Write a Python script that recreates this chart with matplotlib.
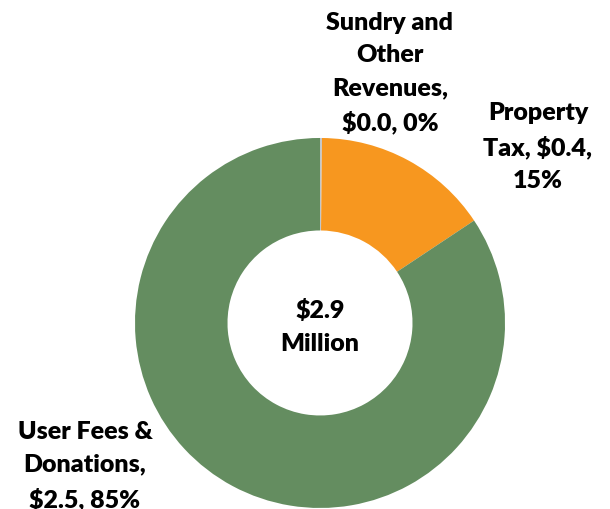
import matplotlib.pyplot as plt

# Revenue breakdown ($ million)
categories = ['Sundry and\nOther\nRevenues,\n$0.0, 0%', 'Property\nTax, $0.4,\n15%', 'User Fees &\nDonations,\n$2.5, 85%']
values = [0.005, 0.45, 2.45]
colors = ['#C3C8CE', '#F7971F', '#648D60']
center_text = '$2.9\nMillion'

# label anchor positions (in pie radius units)
label_pos = [(0.378, 1.357), (1.178, 0.957), (-1.27, -0.768)]

plt.rcParams['font.family'] = ['Lato', 'DejaVu Sans']

fig = plt.figure(figsize=(6.1, 5.1), dpi=100)
ax = fig.add_axes([0.2213, 0.002, 0.6066, 0.7255])

ax.pie(values, colors=colors, startangle=90, counterclock=False, radius=1,
       wedgeprops=dict(width=0.5, linewidth=0))
ax.set_aspect('auto')
ax.set_xlim(-1, 1)
ax.set_ylim(-1, 1)
ax.axis('off')

for text, (x, y) in zip(categories, label_pos):
    ax.text(x, y, text, ha='center', va='center', fontsize=18, fontweight='heavy',
            linespacing=1.58, clip_on=False)

ax.text(0, -0.016, center_text, ha='center', va='center', fontsize=18,
        fontweight='heavy', linespacing=1.65)

fig.savefig('out.png', dpi=100)
